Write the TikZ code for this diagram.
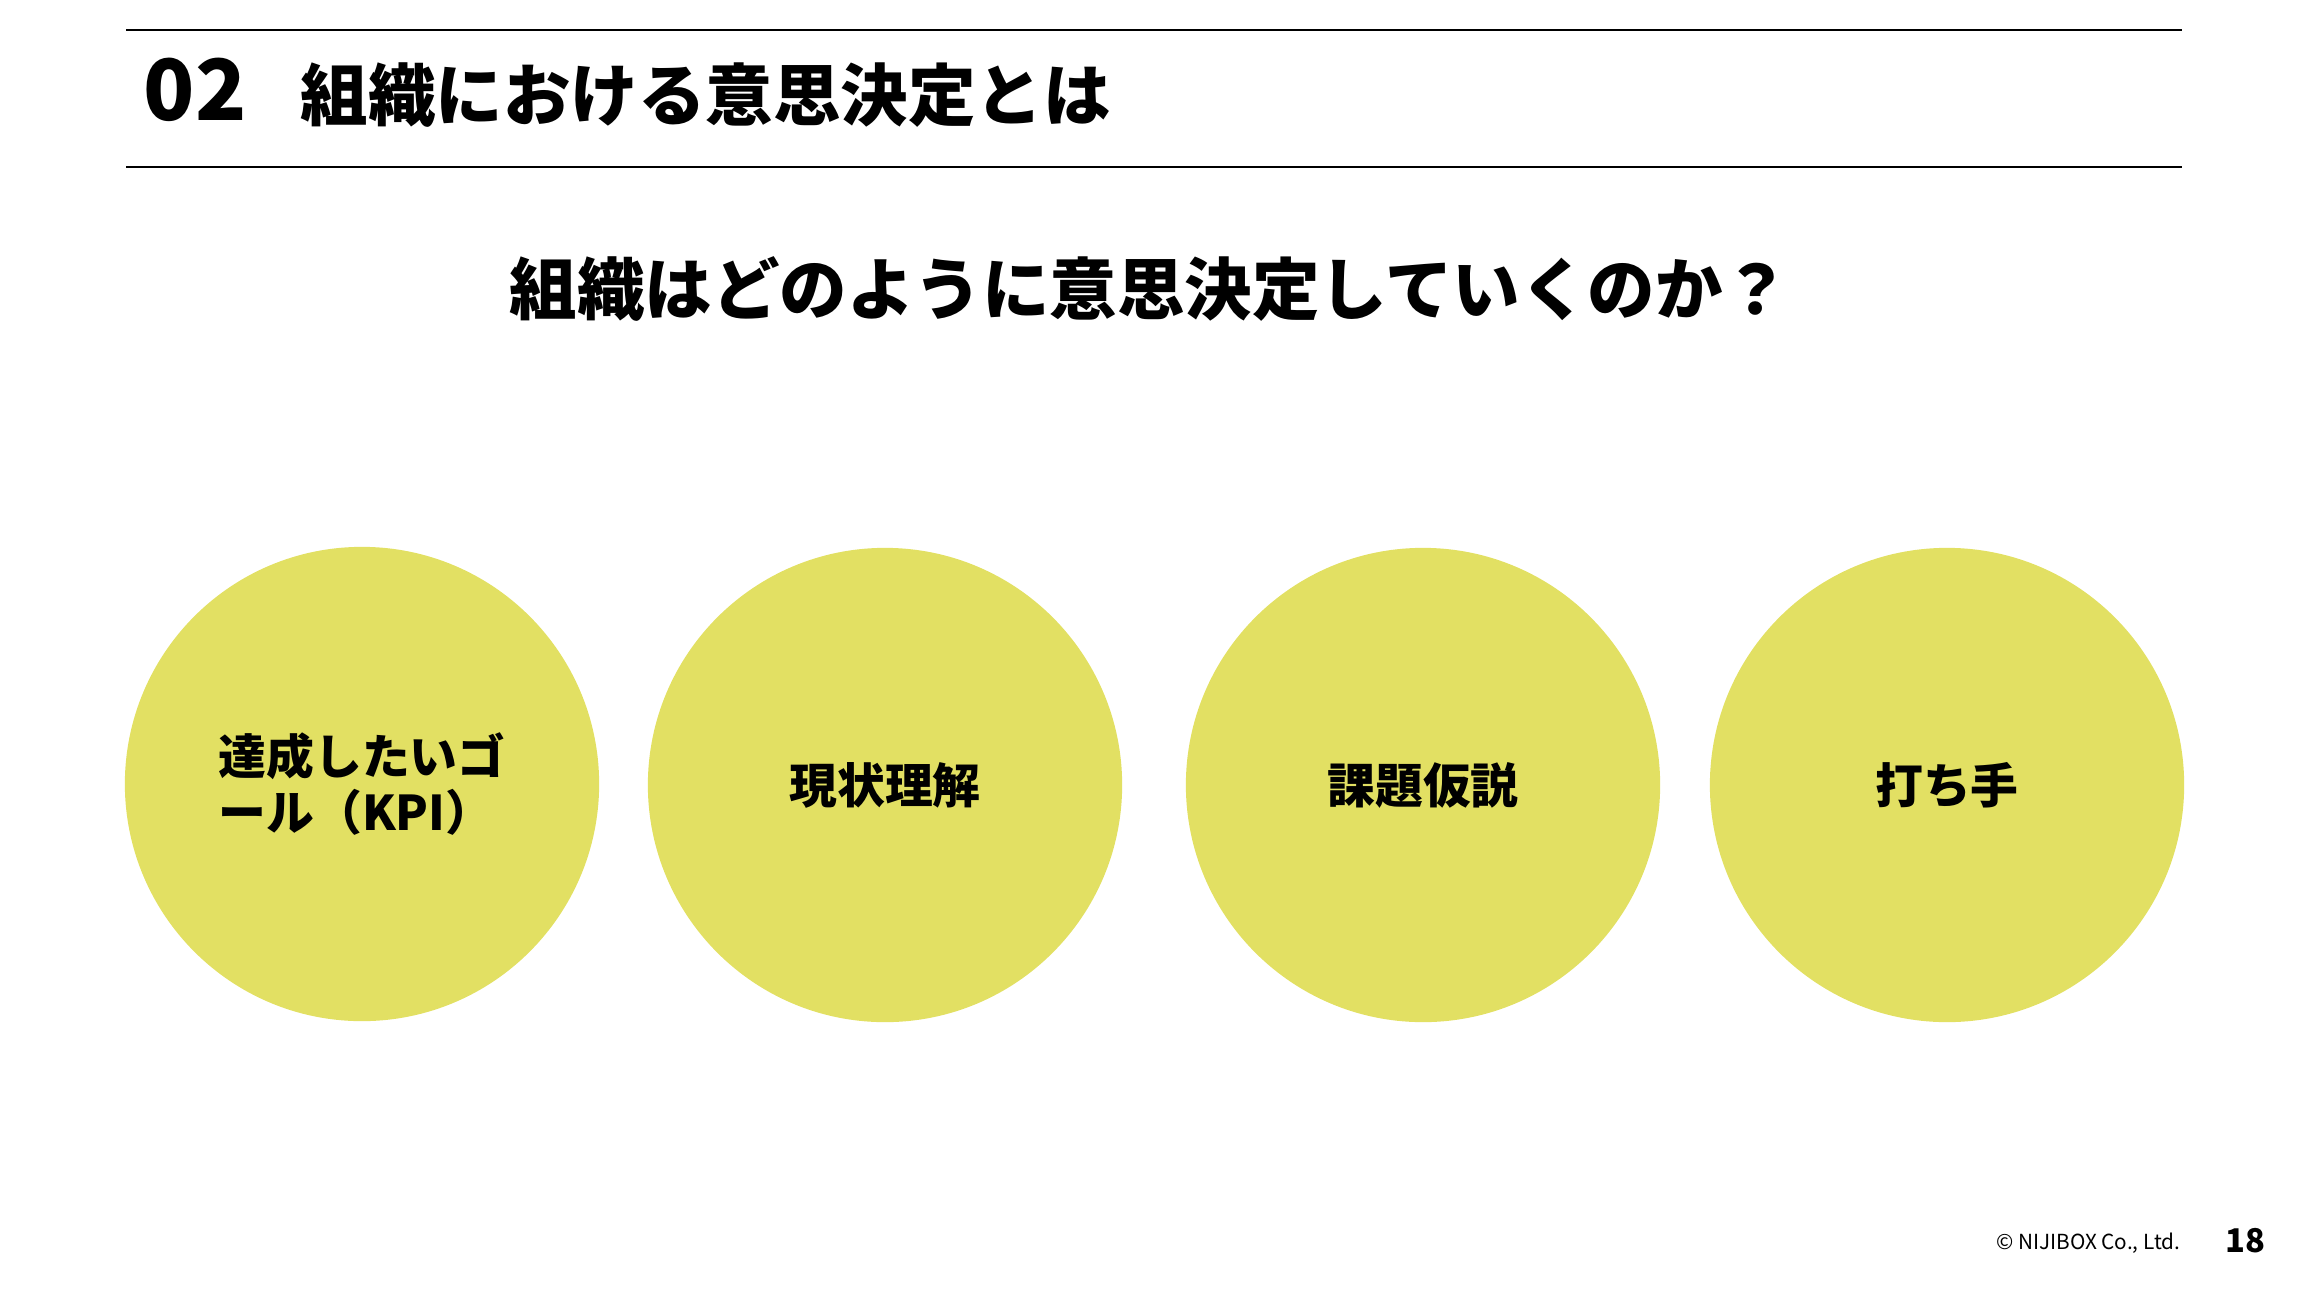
\documentclass[tikz,border=0pt]{standalone}
\usepackage{fontspec}
\setmainfont{Noto Sans CJK JP}
\usetikzlibrary{positioning}
\definecolor{lemon}{RGB}{226,224,99}

\begin{document}
\begin{tikzpicture}[x=0.01cm, y=-0.01cm]
	\tikzset{ball/.style={circle, fill=lemon, inner sep=0, minimum size=4.74cm, align=left, font=\fontsize{13.6}{16}\selectfont\bfseries}}
	\tikzset{rule/.style={draw=black, line width=0.6pt}}
	\tikzset{label/.style={inner sep=0, font=\fontsize{19.2}{23}\selectfont\bfseries}}
	\useasboundingbox (0,0) rectangle (2310,1300);
	\draw[rule] (126,30) -- (2182,30);
	\draw[rule] (126,167) -- (2182,167);
	\node[label, anchor=base west, font=\fontsize{24}{28}\selectfont\bfseries] at (143,121) (num) {02};
	\node[label, anchor=base west] at (300,121) (title) {組織における意思決定とは};
	\node[label, anchor=base] at (1150,314) (question) {組織はどのように意思決定していくのか？};
	\node[ball] at (362,784) (goal) {達成したいゴ\\ール（KPI）};
	\node[ball] at (885,785) (now) {現状理解};
	\node[ball] at (1423,785) (issue) {課題仮説};
	\node[ball] at (1947,785) (action) {打ち手};
	\node[anchor=base east, inner sep=0, font=\fontsize{5.9}{8}\selectfont] at (2181,1249) (copy) {© NIJIBOX Co., Ltd.};
	\node[anchor=base east, inner sep=0, font=\fontsize{9.3}{12}\selectfont\bfseries] at (2266,1252) (page) {18};
\end{tikzpicture}
\end{document}
